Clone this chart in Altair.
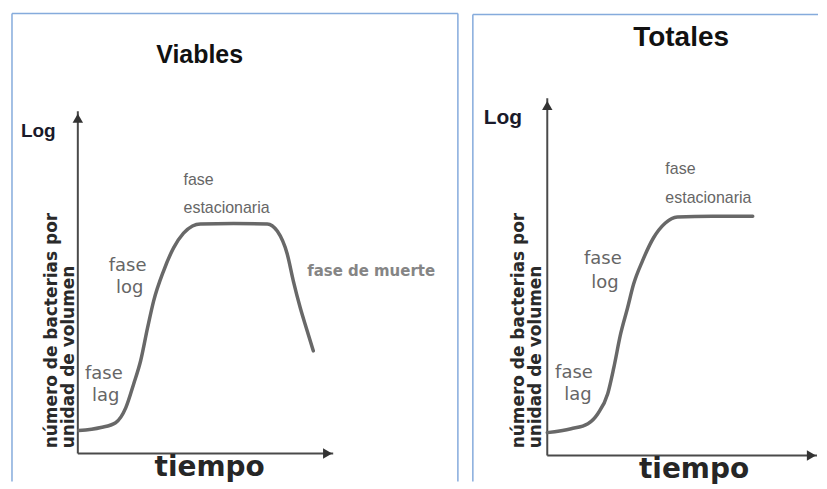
import altair as alt
import pandas as pd

# ---------------- data ----------------
# Viables (left panel): time units vs log count
viab_t = [0.04, 0.90, 1.48, 1.88, 2.19, 2.46, 2.73, 2.97, 3.36, 3.75, 4.14, 4.49, 4.80, 6.10, 7.42, 7.81, 8.20, 8.44, 8.71, 8.98, 9.22]
viab_log = [0.67, 0.76, 0.90, 1.34, 2.04, 2.71, 3.67, 4.46, 5.34, 6.01, 6.44, 6.65, 6.71, 6.72, 6.71, 6.50, 5.83, 5.04, 4.26, 3.59, 3.00]

# Totales (right panel)
tot_t = [0.0, 0.94, 1.60, 1.99, 2.38, 2.62, 2.89, 3.16, 3.40, 3.75, 4.18, 4.65, 5.12, 6.50, 8.09]
tot_log = [0.64, 0.75, 0.89, 1.17, 1.73, 2.46, 3.41, 4.13, 4.80, 5.45, 6.09, 6.51, 6.68, 6.70, 6.70]

titles = ["Viables", "Totales"]
ylabel_1 = "número de bacterias por"
ylabel_2 = "unidad de volumen"
xlabel = "tiempo"
phase_words = ["fase", "estacionaria", "log", "lag", "fase de muerte"]

BORDER = "#85abdc"
AXIS = "#4a4a4a"
CURVE = "#686868"
PHASE = "#666666"


def panel(cfg):
    xs = alt.Scale(domain=cfg["xdom"], nice=False, zero=False)
    ys = alt.Scale(domain=cfg["ydom"], nice=False, zero=False)
    X = lambda f="x": alt.X(f"{f}:Q", scale=xs, axis=None)
    Y = lambda f="y": alt.Y(f"{f}:Q", scale=ys, axis=None)

    border = pd.DataFrame(cfg["border"])
    border_l = alt.Chart(border).mark_rule(color=BORDER, strokeWidth=1.5).encode(
        x=X("x"), y=Y("y"), x2="x2:Q", y2="y2:Q")

    axes_df = pd.DataFrame({
        "x": [0, 0], "y": [0, 0],
        "x2": [0, cfg["xtip"]], "y2": [cfg["ytip"], 0],
    })
    axes_l = alt.Chart(axes_df).mark_rule(color=AXIS, strokeWidth=2).encode(
        x=X("x"), y=Y("y"), x2="x2:Q", y2="y2:Q")

    arrows = pd.DataFrame({
        "x": [0, cfg["xtip"] - 0.22], "y": [cfg["ytip"] - 0.2, 0],
        "shape": ["triangle-up", "triangle-right"],
    })
    arrow_l = alt.Chart(arrows).mark_point(filled=True, size=110, color="#333333", opacity=1).encode(
        x=X("x"), y=Y("y"),
        shape=alt.Shape("shape:N", scale=None, legend=None))

    curve = pd.DataFrame({"x": cfg["t"], "y": cfg["log"]})
    curve_l = alt.Chart(curve).mark_line(color=CURVE, strokeWidth=3.5, interpolate="monotone",
                                         strokeCap="round").encode(x=X("x"), y=Y("y"))

    layers = [border_l, axes_l, curve_l, arrow_l]

    def txt(rows, **style):
        df = pd.DataFrame(rows, columns=["x", "y", "text"])
        return alt.Chart(df).mark_text(**style).encode(x=X("x"), y=Y("y"), text="text:N")

    layers.append(txt([cfg["title"]], fontSize=cfg["tsize"], fontWeight="bold",
                      font="Liberation Sans", color="#111111", baseline="middle"))
    layers.append(txt([cfg["log_lbl"]], fontSize=cfg["lsize"], fontWeight="bold",
                      font="Liberation Sans", color="#1a1a2a", align="left", baseline="middle"))
    layers.append(txt(cfg["ylab"], fontSize=17, fontWeight="bold", font="DejaVu Sans",
                      color="#2a2a2a", angle=270, align="left", baseline="middle"))
    layers.append(txt([cfg["xlab"]], fontSize=28, fontWeight="bold", font="DejaVu Sans",
                      color="#262626", baseline="middle"))
    layers.append(txt(cfg["stat"], fontSize=16, font="Liberation Sans", color=PHASE,
                      align="left", baseline="middle"))
    layers.append(txt(cfg["phases"], fontSize=18, font="DejaVu Sans", color=PHASE,
                      baseline="middle"))
    if cfg.get("death"):
        layers.append(txt(cfg["death"], fontSize=15, fontWeight="bold", font="DejaVu Sans",
                          color="#858585", align="left", baseline="middle"))

    return alt.layer(*layers).properties(width=cfg["w"], height=cfg["h"])


left_cfg = dict(
    xdom=[-2.578, 14.883], ydom=[-0.816, 12.857], w=447, h=469,
    border={"x": [-2.578, -2.578, 14.883], "y": [-0.816, 12.857, 12.857],
            "x2": [-2.578, 14.883, 14.883], "y2": [12.857, 12.857, -0.816]},
    xtip=10.0, ytip=10.0, t=viab_t, log=viab_log,
    title=(4.77, 11.66, titles[0]), tsize=25,
    log_lbl=(-2.23, 9.42, "Log"), lsize=19,
    ylab=[(-1.0, 0.15, ylabel_1), (-0.33, 0.15, ylabel_2)],
    xlab=(5.16, -0.41, xlabel),
    stat=[(4.14, 7.99, phase_words[0]), (4.14, 7.17, phase_words[1])],
    phases=[(1.95, 5.48, phase_words[0]), (2.03, 4.84, phase_words[2]),
            (1.02, 2.33, phase_words[0]), (1.09, 1.69, phase_words[3])],
    death=[(8.98, 5.34, phase_words[4])],
)

right_cfg = dict(
    xdom=[-2.93, 10.66], ydom=[-0.726, 12.374], w=346, h=469,
    border={"x": [-2.93, -2.93], "y": [-0.726, 12.35],
            "x2": [-2.93, 10.66], "y2": [12.35, 12.35]},
    xtip=10.62, ytip=10.0, t=tot_t, log=tot_log,
    title=(5.27, 11.68, titles[1]), tsize=28,
    log_lbl=(-2.5, 9.44, "Log"), lsize=21,
    ylab=[(-1.12, 0.2, ylabel_1), (-0.45, 0.2, ylabel_2)],
    xlab=(5.78, -0.42, xlabel),
    stat=[(4.65, 8.02, phase_words[0]), (4.65, 7.21, phase_words[1])],
    phases=[(2.19, 5.50, phase_words[0]), (2.27, 4.83, phase_words[2]),
            (1.05, 2.32, phase_words[0]), (1.21, 1.68, phase_words[3])],
)

chart = alt.hconcat(panel(left_cfg), panel(right_cfg), spacing=13).properties(
    padding={"left": 3, "top": 4, "right": 0, "bottom": 0},
    background="white",
).configure_view(strokeWidth=0)

chart.save("out.html", embed_options={"renderer": "svg", "actions": False})
